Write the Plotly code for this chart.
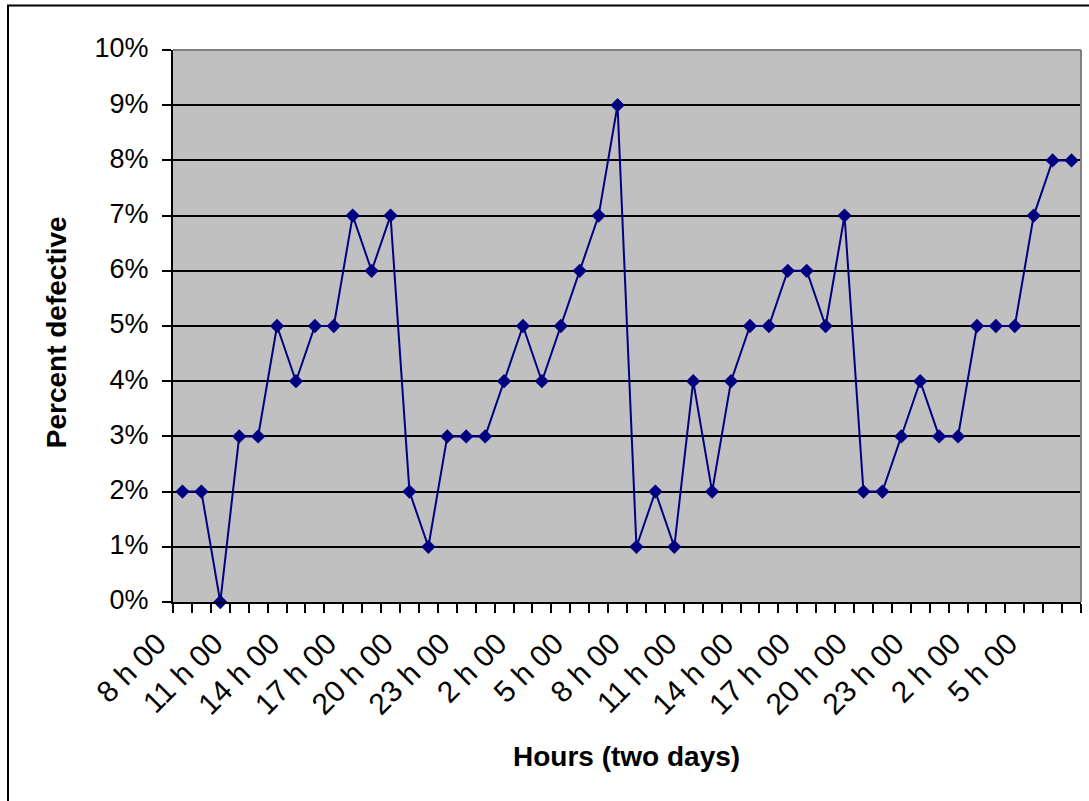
import plotly.graph_objects as go

# ---- data ----
percent_defective = [2, 2, 0, 3, 3, 5, 4, 5, 5, 7, 6, 7, 2, 1, 3, 3, 3, 4, 5, 4, 5, 6, 7, 9,
                     1, 2, 1, 4, 2, 4, 5, 5, 6, 6, 5, 7, 2, 2, 3, 4, 3, 3, 5, 5, 5, 7, 8, 8]
tick_labels = ["8 h 00", "11 h 00", "14 h 00", "17 h 00", "20 h 00", "23 h 00", "2 h 00", "5 h 00",
               "8 h 00", "11 h 00", "14 h 00", "17 h 00", "20 h 00", "23 h 00", "2 h 00", "5 h 00"]
x_title = "Hours (two days)"
y_title = "Percent defective"

n = len(percent_defective)
x_idx = list(range(n))
y_vals = [v / 100 for v in percent_defective]
tick_pos = list(range(0, n, 3))[:len(tick_labels)]

W, H = 1089, 801
L, R, T, B = 173, 1081, 49.5, 602
pw, ph = R - L, B - T

def px_x(x):
    return (x - L) / pw

def px_y(y):
    return 1 - (y - T) / ph

FONT = "Arial, Liberation Sans, Helvetica, sans-serif"

fig = go.Figure()
fig.add_trace(go.Scatter(
    x=x_idx, y=y_vals, mode="lines+markers",
    line=dict(color="#000080", width=2),
    marker=dict(symbol="diamond", size=11, color="#000080"),
    cliponaxis=False, showlegend=False, hoverinfo="x+y",
))

fig.update_layout(
    width=W, height=H,
    margin=dict(l=L, r=W - R, t=T, b=H - B, autoexpand=False),
    paper_bgcolor="white", plot_bgcolor="#C0C0C0",
    font=dict(family=FONT, color="black", size=27),
    xaxis=dict(
        range=[-0.5, n - 0.5], tickmode="array", tickvals=tick_pos, ticktext=tick_labels,
        tickangle=-45, ticks="", showgrid=False, zeroline=False,
        showline=True, linecolor="black", linewidth=2,
        tickfont=dict(size=30), ticklabelshift=-25, ticklabelstandoff=10,
        minor=dict(tickmode="linear", tick0=-0.5, dtick=1, ticks="outside", ticklen=9,
                   tickwidth=1.5, tickcolor="black", showgrid=False),
        fixedrange=True,
    ),
    yaxis=dict(
        range=[0, 0.1], tickmode="linear", tick0=0, dtick=0.01, tickformat=".0%",
        ticks="outside", ticklen=9, tickwidth=1.5, tickcolor="black",
        showgrid=True, gridcolor="black", gridwidth=1.5, zeroline=False,
        showline=True, linecolor="black", linewidth=2,
        tickfont=dict(size=27), ticklabelstandoff=8, ticklabelshift=-2,
        fixedrange=True,
    ),
    shapes=[
        # gray top and right border of plot area
        dict(type="line", xref="paper", yref="paper", x0=0, x1=1, y0=1, y1=1,
             line=dict(color="#808080", width=2), layer="above"),
        dict(type="line", xref="paper", yref="paper", x0=1, x1=1, y0=0, y1=1,
             line=dict(color="#808080", width=2), layer="above"),
        # outer chart border
        dict(type="rect", xref="paper", yref="paper",
             x0=px_x(8), x1=px_x(W + 10), y0=px_y(H + 10), y1=px_y(5),
             line=dict(color="black", width=2), fillcolor="rgba(0,0,0,0)", layer="above"),
    ],
    annotations=[
        dict(text="<b>%s</b>" % x_title, xref="paper", yref="paper",
             x=px_x(626), y=px_y(757), xanchor="center", yanchor="middle",
             showarrow=False, font=dict(size=28)),
        dict(text="<b>%s</b>" % y_title, xref="paper", yref="paper",
             x=px_x(56), y=px_y(332), xanchor="center", yanchor="middle",
             textangle=-90, showarrow=False, font=dict(size=28)),
    ],
)

fig.write_html("out.html", config={"displayModeBar": False},
               post_script="document.body.style.margin='0';document.body.style.padding='0';")
